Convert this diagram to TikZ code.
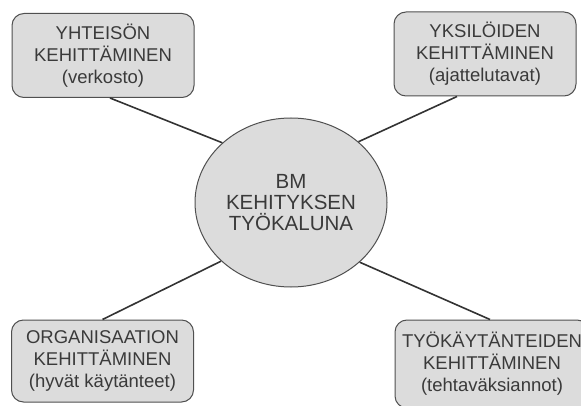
\documentclass[tikz,border=0pt]{standalone}
\usepackage{fontspec}
\setmainfont{Liberation Sans}
\usetikzlibrary{shapes.geometric}
\definecolor{boxgray}{HTML}{DCDCDC}
\definecolor{edgegray}{HTML}{505050}
\definecolor{inkgray}{HTML}{3A3A3A}

\begin{document}
\begin{tikzpicture}[x=1pt, y=1pt,
  every node/.style = {draw=edgegray, line width=1pt, fill=boxgray,
    text=inkgray, align=center, inner sep=0pt},
  spoke/.style = {draw=black!80, line width=1.6pt}]
    \tikzstyle{topic}=[shape=rectangle, rounded corners=12pt,
      minimum width=182pt, minimum height=84pt,
      font=\fontsize{18.5}{22}\selectfont]
    \tikzstyle{core}=[shape=ellipse, minimum width=192pt, minimum height=169pt,
      font=\fontsize{20.5}{21}\selectfont]
  \clip (0,0) rectangle (581,405);
  \node [core] (tool) at (291,202.5) {BM\\KEHITYKSEN\\TYÖKALUNA};
  \node [topic] (yht) at (103,349.5) {YHTEISÖN\\KEHITTÄMINEN\\(verkosto)};
  \node [topic] (yks) at (485,351) {YKSILÖIDEN\\KEHITTÄMINEN\\(ajattelutavat)};
  \node [topic, minimum height=82pt] (org) at (102.5,44) {ORGANISAATION\\KEHITTÄMINEN\\(hyvät käytänteet)};
  \node [topic, minimum width=194pt, minimum height=88pt] (tyo) at (492,41) {TYÖKÄYTÄNTEIDEN\\KEHITTÄMINEN\\(tehtaväksiannot)};
  % spokes from the core to the four boxes
  \draw [spoke] ([xshift=7pt]yht.south) -- (tool.139);
  \draw [spoke] ([xshift=-28pt]yks.south) -- (tool.42);
  \draw [spoke] (org.north) -- (tool.220);
  \draw [spoke] ([xshift=-2pt]tyo.north) -- (tool.319);
\end{tikzpicture}
\end{document}
